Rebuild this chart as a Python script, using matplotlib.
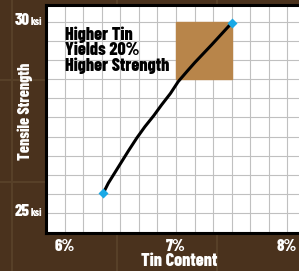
import matplotlib
matplotlib.use("Agg")
import matplotlib.pyplot as plt
from matplotlib.ticker import MultipleLocator
from matplotlib.lines import Line2D
from matplotlib.patches import Rectangle

# curve: tin content (%) vs tensile strength (ksi)
tin = [6.345, 6.39, 6.45, 6.51, 6.57, 6.646, 6.72, 6.80, 6.87, 6.95, 7.02,
       7.10, 7.17, 7.32, 7.50]
strength = [25.52, 25.78, 26.06, 26.34, 26.62, 26.96, 27.26, 27.55, 27.83,
            28.13, 28.44, 28.71, 28.94, 29.40, 29.97]
x_ticks = [6, 7, 8]
x_labels = ["6%", "7%", "8%"]
y_ticks = [25, 30]
y_labels = ["25", "30"]
box_x = [7.0, 7.5]
box_y = [28.5, 30.0]

bg = "#4a321d"
fam = ["Barlow Condensed", "DejaVu Sans"]
wt = 800

fig = plt.figure(figsize=(2.99, 2.71), dpi=100, facecolor=bg)

# faint texture lines in the brown background
for xp in [12, 117, 217]:
    fig.add_artist(Line2D([xp / 299, xp / 299], [0, 1], color="#574028", lw=1.5, zorder=-1))
for yp in [80, 182]:
    fig.add_artist(Line2D([0, 1], [1 - yp / 271, 1 - yp / 271], color="#574028", lw=1.5, zorder=-1))

ax = fig.add_axes([46 / 299, 38 / 271, 264 / 299, 228 / 271])
ax.set_facecolor("white")
ax.set_xlim(5.829, 8.207)
ax.set_ylim(24.476, 30.445)

ax.xaxis.set_minor_locator(MultipleLocator(1 / 6))
ax.yaxis.set_minor_locator(MultipleLocator(0.5))
ax.set_xticks(x_ticks)
ax.set_xticklabels(x_labels, family=fam, weight=wt, size=12, color="white")
ax.set_yticks(y_ticks)
ax.set_yticklabels(["", ""])
ax.tick_params(which="both", length=0)
ax.tick_params(axis="x", pad=4)
ax.grid(which="both", color="#c0c0c0", lw=0.8)
ax.set_axisbelow(True)

for s in ["left", "bottom", "top"]:
    ax.spines[s].set_linewidth(2.2)
    ax.spines[s].set_color("black")
ax.spines["right"].set_visible(False)

for v, lab in zip(y_ticks, y_labels):
    ax.annotate(lab, xy=(0, v), xycoords=("axes fraction", "data"),
                xytext=(-11.5, -2.5), textcoords="offset points",
                ha="right", va="baseline", family=fam, weight=wt,
                size=12, color="white")
    ax.annotate("ksi", xy=(0, v), xycoords=("axes fraction", "data"),
                xytext=(-11.3, -2.5), textcoords="offset points",
                ha="left", va="baseline", family=fam, weight=wt,
                size=7.5, color="white")

ax.add_patch(Rectangle((box_x[0], box_y[0]), box_x[1] - box_x[0],
                       box_y[1] - box_y[0], color="#b8854a", zorder=2))

ax.plot(tin, strength, color="black", lw=2.2, zorder=3,
        solid_capstyle="round", solid_joinstyle="round")
ax.plot([tin[0], tin[-1]], [strength[0], strength[-1]], "D", color="#1aa9e6",
        ms=5, mec="none", zorder=4)

ax.text(6.0, 29.88, "Higher Tin\nYields 20%\nHigher Strength", ha="left", va="top",
        family=fam, weight=wt, size=13, color="black", linespacing=0.95)

fig.text(179 / 299, 1 - 261 / 271, "Tin Content", ha="center", va="center",
         family=fam, weight=wt, size=13, color="white")
fig.text(25 / 299, 1 - 111 / 271, "Tensile Strength", ha="center", va="center",
         rotation=90, family=fam, weight=wt, size=11.5, color="white")

fig.savefig("out.png", dpi=100, facecolor=bg)
